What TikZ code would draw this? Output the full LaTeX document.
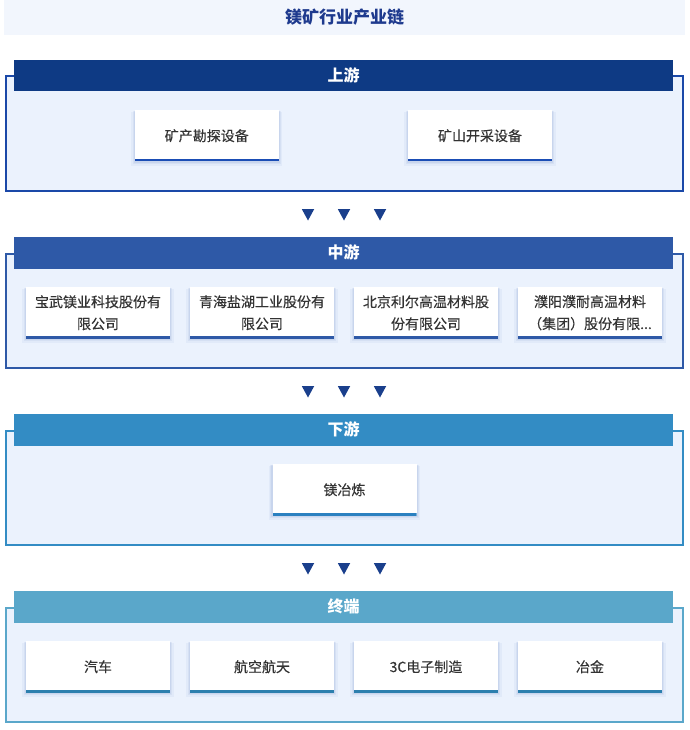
\documentclass[tikz,border=0pt]{standalone}
\usepackage{fontspec}
\setmainfont{Noto Sans CJK SC}
\newfontfamily\boxfont[FakeBold=0.3]{Noto Sans CJK SC}
\usetikzlibrary{shadows}
\definecolor{titlebg}{HTML}{F2F6FD}
\definecolor{titlec}{HTML}{1E3A8E}
\definecolor{framebg}{HTML}{EBF2FD}
\definecolor{hA}{HTML}{0E3A84}
\definecolor{fA}{HTML}{1A48A8}
\definecolor{lA}{HTML}{1A4DB5}
\definecolor{hB}{HTML}{2E59A7}
\definecolor{fB}{HTML}{2E59A7}
\definecolor{lB}{HTML}{2E59A7}
\definecolor{hC}{HTML}{338CC4}
\definecolor{fC}{HTML}{338CC4}
\definecolor{lC}{HTML}{2A80C0}
\definecolor{hD}{HTML}{5AA7CA}
\definecolor{fD}{HTML}{5AA7CA}
\definecolor{lD}{HTML}{2C7FAE}
\definecolor{arrowc}{HTML}{1A3F8C}
\definecolor{textc}{HTML}{333333}
\definecolor{shadowc}{HTML}{3A5FB0}
\begin{document}
\begin{tikzpicture}[x=1pt,y=-1pt,
  frame/.style={draw=#1, line width=2pt, fill=framebg, minimum width=677pt, minimum height=114pt, inner sep=0pt},
  hdr/.style={fill=#1, minimum width=659pt, minimum height=31.5pt, inner sep=0pt, text=white, font=\bfseries\fontsize{16}{18}\selectfont},
  itembox/.style={fill=white, minimum width=144pt, minimum height=51.5pt, inner sep=0pt,
    align=center, text=textc, font=\boxfont\fontsize{14}{22}\selectfont,
    general shadow={fill=shadowc, opacity=0.05, shadow scale=1.05, shadow yshift=-3pt},
    general shadow={fill=shadowc, opacity=0.07, shadow scale=1.03, shadow yshift=-2pt},
    general shadow={fill=shadowc, opacity=0.08, shadow scale=1.015, shadow yshift=-1pt},
    path picture={\fill[#1] (path picture bounding box.south west) rectangle ([yshift=2.4pt]path picture bounding box.south east);}},
  tri/.style={fill=arrowc}
]
\useasboundingbox (0,0) rectangle (689,730);
% title
\node[fill=titlebg, minimum width=681pt, minimum height=35.5pt, inner sep=0pt] (titlebar) at (344.5,17.75) {};
\node[text=titlec, font=\bfseries\fontsize{17}{20}\selectfont] (title) at (344.5,17.5) {镁矿行业产业链};

% section 1: 上游 (T=60)
\node[frame=fA] (f1) at (344,133.5) {};
\node[hdr=hA] (h1) at (343.5,75.75) {上游};
\node[itembox=lA] (u1) at (206.75,135.75) {矿产勘探设备};
\node[itembox=lA] (u2) at (480,135.75) {矿山开采设备};

% section 2: 中游 (T=237)
\node[frame=fB] (f2) at (344,310.5) {};
\node[hdr=hB] (h2) at (343.5,252.75) {中游};
\node[itembox=lB] (m1) at (98,312.75) {宝武镁业科技股份有\\限公司};
\node[itembox=lB] (m2) at (262,312.75) {青海盐湖工业股份有\\限公司};
\node[itembox=lB] (m3) at (426,312.75) {北京利尔高温材料股\\份有限公司};
\node[itembox=lB] (m4) at (590,312.75) {濮阳濮耐高温材料\\（集团）股份有限...};

% section 3: 下游 (T=414)
\node[frame=fC] (f3) at (344,487.5) {};
\node[hdr=hC] (h3) at (343.5,429.75) {下游};
\node[itembox=lC] (d1) at (344.5,489.75) {镁冶炼};

% section 4: 终端 (T=591)
\node[frame=fD] (f4) at (344,664.5) {};
\node[hdr=hD] (h4) at (343.5,606.75) {终端};
\node[itembox=lD] (t1) at (98,666.75) {汽车};
\node[itembox=lD] (t2) at (262,666.75) {航空航天};
\node[itembox=lD] (t3) at (426,666.75) {3C电子制造};
\node[itembox=lD] (t4) at (590,666.75) {冶金};

% arrows
\foreach \ty in {209,386,563}{
  \foreach \tx in {308,344,380}{
    \fill[tri] (\tx-6.25,\ty) -- (\tx+6.25,\ty) -- (\tx,\ty+11.5) -- cycle;
  }
}
\end{tikzpicture}
\end{document}
